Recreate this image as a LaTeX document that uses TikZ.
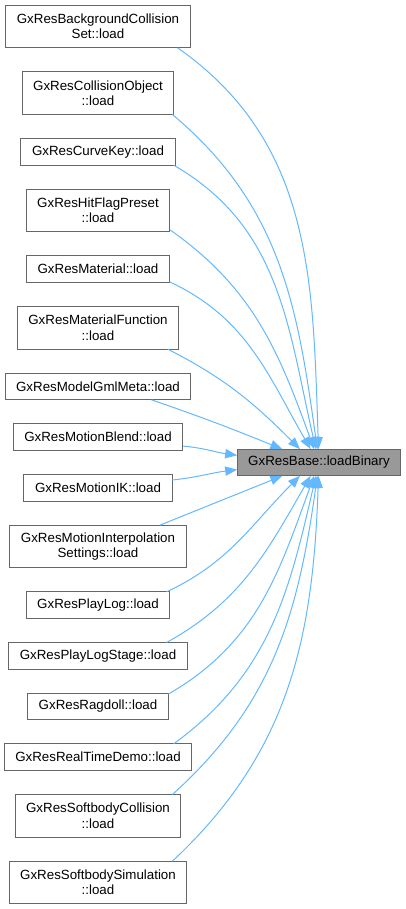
\documentclass[tikz,border=0pt]{standalone}
\usepackage{fontspec}
\setmainfont{Liberation Sans}
\usetikzlibrary{
	arrows.meta,
	positioning
}
\definecolor{edgeblue}{HTML}{63B8FF}
\definecolor{boxgray}{HTML}{666666}
\definecolor{basegray}{HTML}{999999}

\begin{document}
\begin{tikzpicture}[
		x=0.75pt, y=0.75pt,
		caller/.style={draw=boxgray, fill=white, line width=0.75pt, minimum height=20pt, inner xsep=8.3pt, inner ysep=2pt, outer sep=0pt, align=center, font=\fontsize{10}{11.5}\selectfont},
		twoline/.style={caller, minimum height=32pt},
		target/.style={caller, fill=basegray},
		call/.style={-{Triangle[length=9pt,width=7pt]}, draw=edgeblue, line width=0.75pt}
		]
		\useasboundingbox (0,0) rectangle (405,909);
		
		% =========================
		% Callers
		% =========================
		\node[twoline] (bcs) at (98,882.5) {GxResBackgroundCollision\\Set::load};
		\node[twoline, below=18pt of bcs] (colobj) {GxResCollisionObject\\::load};
		\node[caller, below=18pt of colobj] (curvekey) {GxResCurveKey::load};
		\node[twoline, below=18pt of curvekey] (hitflag) {GxResHitFlagPreset\\::load};
		\node[caller, below=18pt of hitflag] (material) {GxResMaterial::load};
		\node[twoline, below=18pt of material] (matfunc) {GxResMaterialFunction\\::load};
		\node[caller, below=18pt of matfunc] (gmlmeta) {GxResModelGmlMeta::load};
		\node[caller, below=18pt of gmlmeta] (blend) {GxResMotionBlend::load};
		\node[caller, below=18pt of blend] (motionik) {GxResMotionIK::load};
		\node[twoline, below=18pt of motionik] (interp) {GxResMotionInterpolation\\Settings::load};
		\node[caller, below=18pt of interp] (playlog) {GxResPlayLog::load};
		\node[caller, below=18pt of playlog] (logstage) {GxResPlayLogStage::load};
		\node[caller, below=18pt of logstage] (ragdoll) {GxResRagdoll::load};
		\node[caller, below=18pt of ragdoll] (realtime) {GxResRealTimeDemo::load};
		\node[twoline, below=18pt of realtime] (sbcoll) {GxResSoftbodyCollision\\::load};
		\node[twoline, below=18pt of sbcoll] (sbsim) {GxResSoftbodySimulation\\::load};
		
		% =========================
		% Called function
		% =========================
		\node[target] (base) at (319,446.5) {GxResBase::loadBinary};
		
		% =========================
		% Calls: upper half
		% =========================
		\draw[call] (bcs.-15) to[out=-35, in=92] (base.92);
		\draw[call] (colobj.-16) to[out=-40, in=98] (base.97);
		\draw[call] (curvekey.-10) to[out=-30, in=103] (base.103);
		\draw[call] (hitflag.-15) to[out=-35, in=110] (base.110);
		\draw[call] (material.-10) to[out=-25, in=120] (base.122);
		\draw[call] (matfunc.-17) to[out=-27, in=135] (base.145);
		\draw[call] (gmlmeta.-14) to[out=-19, in=158] (base.160);
		\draw[call] (blend.-6) to[out=-5, in=172] (base.175);
		
		% =========================
		% Calls: lower half
		% =========================
		\draw[call] (motionik.6) to[out=6, in=-173] (base.185);
		\draw[call] (interp.19) to[out=22, in=-158] (base.-160);
		\draw[call] (playlog.11) to[out=25, in=-135] (base.-145);
		\draw[call] (logstage.11) to[out=29, in=-120] (base.-122);
		\draw[call] (ragdoll.10) to[out=30, in=-110] (base.-110);
		\draw[call] (realtime.10) to[out=36, in=-103] (base.-103);
		\draw[call] (sbcoll.16) to[out=42, in=-98] (base.-97);
		\draw[call] (sbsim.16) to[out=43, in=-92] (base.-92);
		
	\end{tikzpicture}
\end{document}
